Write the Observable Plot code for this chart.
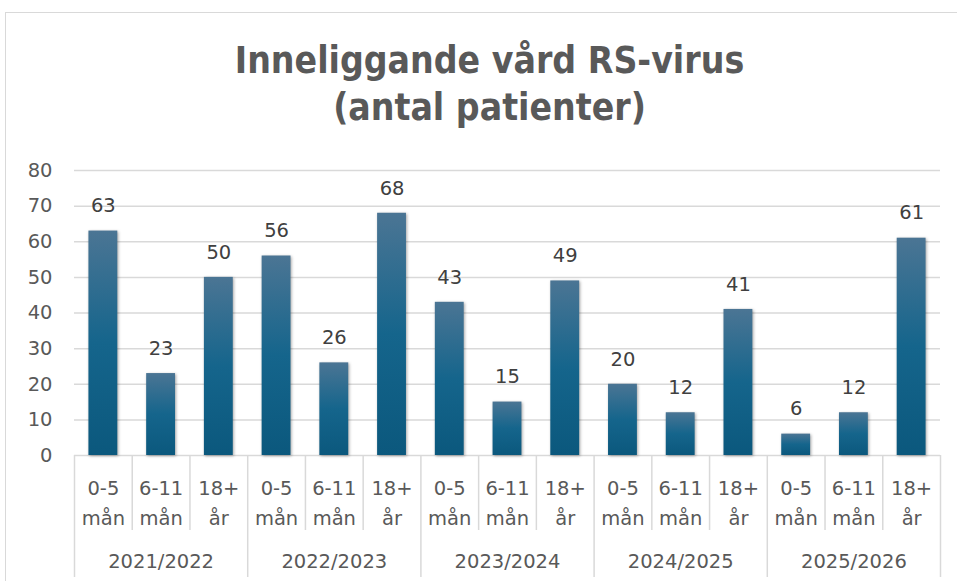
<!DOCTYPE html>
<html>
<head>
<meta charset="utf-8">
<script src="https://cdn.jsdelivr.net/npm/d3@7"></script>
<script src="https://cdn.jsdelivr.net/npm/@observablehq/plot@0.6"></script>
<style>
  html, body { margin: 0; padding: 0; background: #fff; }
  body { width: 957px; height: 581px; overflow: hidden; position: relative; font-family: "DejaVu Sans", sans-serif; }
  #frame { position: absolute; left: 5px; top: 12px; width: 1000px; height: 620px; border-left: 1.5px solid #d9d9d9; border-top: 1.5px solid #d9d9d9; pointer-events: none; }
  #title { box-sizing: border-box; width: 957px; height: 150px; padding-top: 37px; padding-left: 22px; text-align: center;
           font-family: "DejaVu Sans Condensed", "DejaVu Sans", sans-serif; font-stretch: condensed; font-weight: bold;
           font-size: 37px; line-height: 47px; color: #595959; }
  #chart svg { display: block; }
  #chart g[aria-label="rect"] rect { filter: drop-shadow(1px 1px 1.5px rgba(0,0,0,0.35)); }
</style>
</head>
<body>
<div id="frame"></div>
<div id="title">Inneliggande vård RS-virus<br>(antal patienter)</div>
<div id="chart"></div>
<script>
// ---- data ----
const seasons = ["2021/2022", "2022/2023", "2023/2024", "2024/2025", "2025/2026"];
const ageGroups = ["0-5 mån", "6-11 mån", "18+ år"];
const values2021_2022 = [63, 23, 50];
const values2022_2023 = [56, 26, 68];
const values2023_2024 = [43, 15, 49];
const values2024_2025 = [20, 12, 41];
const values2025_2026 = [6, 12, 61];
const yTicks = [0, 10, 20, 30, 40, 50, 60, 70, 80];

const seriesBySeason = [values2021_2022, values2022_2023, values2023_2024, values2024_2025, values2025_2026];
const data = [];
seasons.forEach((s, si) => {
  ageGroups.forEach((a, ai) => {
    data.push({ season: s, age: a, i: si * 3 + ai, value: seriesBySeason[si][ai] });
  });
});
const nCats = data.length;
const separators = d3.range(0, nCats + 1);
const catSeps = separators.filter(d => d % 3 !== 0);
const groupSeps = separators.filter(d => d % 3 === 0);
const groupLabels = seasons.map((s, si) => ({ season: s, c: si * 3 + 1.5 }));

const W = 957, H = 431, mTop = 20, mBottom = 126, mLeft = 74, mRight = 17;
const plotH = H - mTop - mBottom;
const FS = 19.5;

const gradientDefs = () => {
  const defs = d3.create("svg:defs");
  const g = defs.append("linearGradient").attr("id", "barGrad").attr("x1", 0).attr("y1", 0).attr("x2", 0).attr("y2", 1);
  g.append("stop").attr("offset", "0%").attr("stop-color", "#4b7594");
  g.append("stop").attr("offset", "50%").attr("stop-color", "#15658c");
  g.append("stop").attr("offset", "100%").attr("stop-color", "#0b587d");
  return defs.node();
};

const chart = Plot.plot({
  width: W, height: H,
  marginTop: mTop, marginBottom: mBottom, marginLeft: mLeft, marginRight: mRight,
  style: { fontFamily: "'DejaVu Sans', sans-serif", background: "transparent", overflow: "visible" },
  x: { domain: [0, nCats], axis: null },
  y: { domain: [0, 80], axis: null },
  marks: [
    gradientDefs,
    Plot.gridY(yTicks, { stroke: "#d9d9d9", strokeOpacity: 1, strokeWidth: 1.5 }),
    Plot.axisY(yTicks, { tickSize: 0, tickPadding: 22, fontSize: FS, fill: "#595959", label: null }),
    Plot.ruleX(catSeps, { stroke: "#d9d9d9", strokeWidth: 1.5, insetTop: plotH, insetBottom: -75 }),
    Plot.ruleX(groupSeps, { stroke: "#d9d9d9", strokeWidth: 1.5, insetTop: plotH, insetBottom: -122 }),
    Plot.rectY(data, { x1: d => d.i + 0.25, x2: d => d.i + 0.75, y: "value", fill: "url(#barGrad)" }),
    Plot.text(data, { x: d => d.i + 0.5, y: "value", text: d => String(d.value), dy: -25, fontSize: FS, fill: "#404040" }),
    Plot.text(data, { x: d => d.i + 0.5, y: 0, text: d => d.age.replace(" ", "\n"), dy: 45, lineHeight: 1.54, fontSize: FS, fill: "#595959" }),
    Plot.text(groupLabels, { x: "c", y: 0, text: "season", dy: 106, fontSize: FS, fill: "#595959" })
  ]
});
document.getElementById("chart").appendChild(chart);
</script>
</body>
</html>
